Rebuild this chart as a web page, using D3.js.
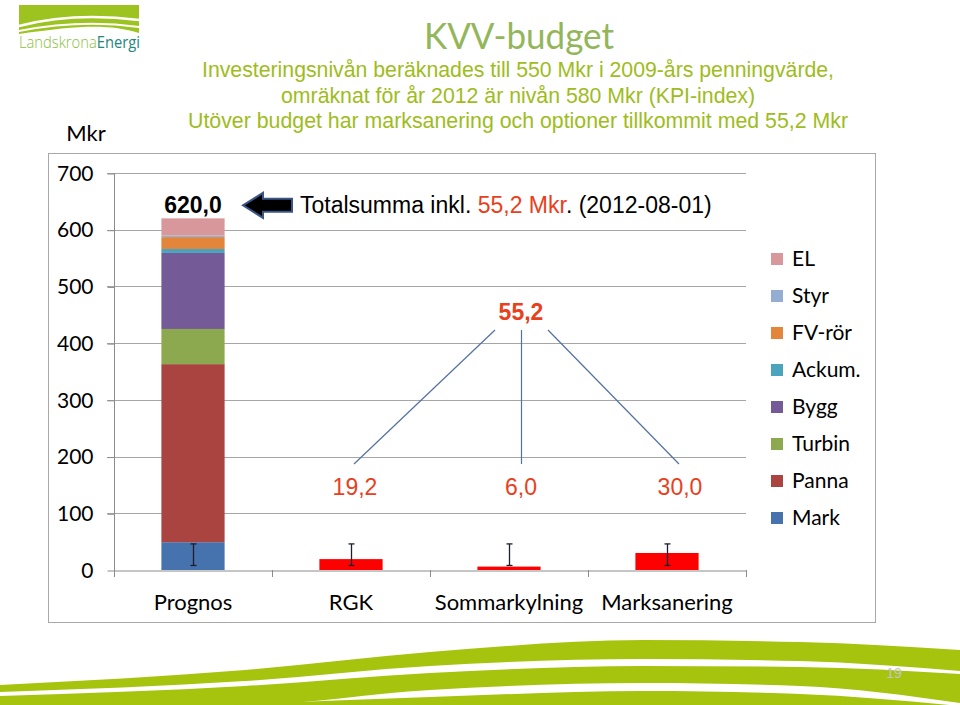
<!DOCTYPE html>
<html><head><meta charset="utf-8">
<script src="https://cdn.jsdelivr.net/npm/d3@7"></script>
<style>body{margin:0;background:#fff} svg{display:block}</style>
</head><body><svg id="c" width="960" height="705"></svg>
<script>
// ---------- data ----------
const categories = ["Prognos", "RGK", "Sommarkylning", "Marksanering"];
const stackSeries = ["Mark", "Panna", "Turbin", "Bygg", "Ackum.", "FV-rör", "Styr", "EL"];
const prognosValues = [49, 314, 62, 134, 7, 21, 3, 30];
const extraCategories = ["RGK", "Sommarkylning", "Marksanering"];
const extraValues = [19.2, 6.0, 30.0];
const errorMid = [27, 27, 27, 27];
const errorHalf = [19, 19, 19, 19];
const yTicks = [0, 100, 200, 300, 400, 500, 600, 700];
const totalValue = 620.0;
const extraTotal = 55.2;
const titleText = "KVV-budget";
const subtitleLines = [
  "Investeringsnivån beräknades till 550 Mkr i 2009-års penningvärde,",
  "omräknat för år 2012 är nivån 580 Mkr (KPI-index)",
  "Utöver budget har marksanering och optioner tillkommit med 55,2 Mkr"
];

// ---------- styles ----------
const seriesColors = ["#4673AE", "#A94441", "#8DA94F", "#745A96", "#4AA4BE", "#E4853C", "#93ADD3", "#D8979A"];
const calibri = "Lato, 'Open Sans', sans-serif";
const arial = "'Liberation Sans', Arial, sans-serif";
const fmt = v => d3.format(".1f")(v).replace(".", ",");

const svg = d3.select("#c");

// ---------- decorative background ----------
const green = "#A6C40E";
function swoosh(xs, top, bottom) {
  const pts = xs.map((xv, i) => [xv, top[i], bottom[i]]);
  return d3.area().x(p => p[0]).y0(p => p[2]).y1(p => p[1]).curve(d3.curveMonotoneX)(pts);
}
svg.append("path").attr("fill", green).attr("d", swoosh(
  [0, 245, 430, 643, 800, 960],
  [685, 670, 652, 640, 642, 650],
  [692, 681, 666, 659, 661, 671]));
svg.append("path").attr("fill", green).attr("d", swoosh(
  [0, 245, 430, 643, 800, 960],
  [696, 686, 673, 666, 667, 674],
  [706, 705, 690, 683, 686, 703]));
svg.append("path").attr("fill", green).attr("d", swoosh(
  [200, 430, 643, 800, 960],
  [706, 697, 691, 694, 706],
  [706, 706, 706, 706, 706]));
svg.append("text").attr("x", 894).attr("y", 678).attr("text-anchor", "middle")
  .attr("font-family", arial).attr("font-size", 14).attr("fill", "#c4c4c4").text("19");

// ---------- logo ----------
const logo = svg.append("g");
logo.append("path").attr("fill", "#9CC31F")
  .attr("d", "M19,5H139V33C110,24 80,25 19,34Z");
logo.append("path").attr("fill", "none").attr("stroke", "#fff").attr("stroke-width", 2.5)
  .attr("d", "M19,26C50,18 90,14 139,20");
logo.append("path").attr("fill", "none").attr("stroke", "#fff").attr("stroke-width", 2)
  .attr("d", "M19,31C55,24 95,21 139,27");
const lt = logo.append("text").attr("x", 19).attr("y", 48)
  .attr("font-family", "'Open Sans', sans-serif").attr("font-size", 15.5).attr("font-weight", 300)
  .attr("textLength", 121).attr("lengthAdjust", "spacingAndGlyphs");
lt.append("tspan").attr("fill", "#8BBE3E").text("Landskrona");
lt.append("tspan").attr("fill", "#23877E").attr("font-weight", 400).text("Energi");

// ---------- titles ----------
svg.append("text").attr("x", 519).attr("y", 49).attr("text-anchor", "middle")
  .attr("font-family", calibri).attr("font-weight", 400).attr("font-size", 37)
  .attr("fill", "#93B65A").attr("textLength", 190).attr("lengthAdjust", "spacingAndGlyphs")
  .text(titleText);
const subW = [632, 474, 660];
const subY = [77, 103, 128];
subtitleLines.forEach((s, i) => {
  svg.append("text").attr("x", 518).attr("y", subY[i]).attr("text-anchor", "middle")
    .attr("font-family", arial).attr("font-size", 22).attr("fill", "#9EBC1C")
    .attr("textLength", subW[i]).attr("lengthAdjust", "spacingAndGlyphs").text(s);
});

// ---------- chart frame ----------
svg.append("rect").attr("x", 48.5).attr("y", 153.5).attr("width", 827).attr("height", 469)
  .attr("fill", "none").attr("stroke", "#A8A8A8");
svg.append("text").attr("x", 86).attr("y", 141).attr("text-anchor", "middle")
  .attr("font-family", calibri).attr("font-size", 22).attr("fill", "#000").text("Mkr");

// ---------- scales ----------
const x = d3.scaleBand().domain(categories).range([114, 746]).padding(0);
const y = d3.scaleLinear().domain([0, 700]).range([570, 173]);
const barW = x.bandwidth() * 0.4;
const cx = c => x(c) + x.bandwidth() / 2;

// gridlines
svg.append("g").selectAll("line").data(yTicks.filter(t => t > 0)).join("line")
  .attr("x1", 107).attr("x2", 746)
  .attr("y1", d => Math.round(y(d)) + 0.5).attr("y2", d => Math.round(y(d)) + 0.5)
  .attr("stroke", "#A6A6A6");

// y axis
const yAxis = svg.append("g").attr("transform", "translate(114.5,0.5)")
  .call(d3.axisLeft(y).tickValues(yTicks).tickSize(7).tickPadding(14).tickFormat(d3.format("d")));
yAxis.select(".domain").remove();
yAxis.selectAll(".tick line").attr("stroke", "#8C8C8C");
yAxis.selectAll("text").attr("font-family", calibri).attr("font-size", 21).attr("fill", "#000");
svg.append("line").attr("x1", 114.5).attr("x2", 114.5).attr("y1", y(700)).attr("y2", 577)
  .attr("stroke", "#8C8C8C");

// x axis
const xAxis = svg.append("g").attr("transform", "translate(0,570.5)")
  .call(d3.axisBottom(x).tickSize(0).tickPadding(24));
xAxis.select(".domain").attr("stroke", "#8C8C8C");
xAxis.selectAll("text").attr("font-family", calibri).attr("font-size", 22).attr("fill", "#000");
svg.append("g").selectAll("line").data(categories).join("line")
  .attr("x1", d => Math.round(x(d) + x.bandwidth()) + 0.5)
  .attr("x2", d => Math.round(x(d) + x.bandwidth()) + 0.5)
  .attr("y1", 570).attr("y2", 577).attr("stroke", "#8C8C8C");

// ---------- stacked bar ----------
const row = { category: "Prognos" };
stackSeries.forEach((k, i) => row[k] = prognosValues[i]);
const stacked = d3.stack().keys(stackSeries)([row]);
svg.append("g").selectAll("g").data(stacked).join("g")
  .attr("fill", (d, i) => seriesColors[i])
  .selectAll("rect").data(d => d).join("rect")
  .attr("x", d => cx(d.data.category) - barW / 2)
  .attr("width", barW)
  .attr("y", d => y(d[1]))
  .attr("height", d => y(d[0]) - y(d[1]));

// red extra bars
svg.append("g").selectAll("rect").data(extraCategories).join("rect")
  .attr("fill", "#FF0000")
  .attr("x", d => cx(d) - barW / 2).attr("width", barW)
  .attr("y", (d, i) => y(extraValues[i]))
  .attr("height", (d, i) => y(0) - y(extraValues[i]));

// error bars
const eb = svg.append("g").attr("stroke", "#1E1E2E").attr("stroke-width", 1.3);
categories.forEach((c, i) => {
  const lo = y(errorMid[i] - errorHalf[i]), hi = y(errorMid[i] + errorHalf[i]);
  const xc = Math.round(cx(c)) + 0.5;
  eb.append("line").attr("x1", xc).attr("x2", xc).attr("y1", lo).attr("y2", hi);
  eb.append("line").attr("x1", xc - 3).attr("x2", xc + 3).attr("y1", lo).attr("y2", lo);
  eb.append("line").attr("x1", xc - 3).attr("x2", xc + 3).attr("y1", hi).attr("y2", hi);
});

// ---------- annotations ----------
const topY = y(totalValue);
svg.append("text").attr("x", cx("Prognos")).attr("y", topY - 5).attr("text-anchor", "middle")
  .attr("font-family", arial).attr("font-weight", "bold").attr("font-size", 23).attr("fill", "#000")
  .text(fmt(totalValue));
const ay = topY - 13;
svg.append("path").attr("fill", "#000").attr("stroke", "#3A5688").attr("stroke-width", 2)
  .attr("stroke-linejoin", "miter")
  .attr("d", `M243,${ay}L263,${ay - 12.5}V${ay - 6.5}H292V${ay + 6.5}H263V${ay + 12.5}Z`);
const tt = svg.append("text").attr("x", 300).attr("y", topY - 5)
  .attr("font-family", arial).attr("font-size", 23).attr("fill", "#000");
tt.append("tspan").text("Totalsumma inkl. ");
tt.append("tspan").attr("fill", "#E8401C").text(fmt(extraTotal) + " Mkr");
tt.append("tspan").text(". (2012-08-01)");

svg.append("text").attr("x", 521).attr("y", 320).attr("text-anchor", "middle")
  .attr("font-family", arial).attr("font-weight", "bold").attr("font-size", 23).attr("fill", "#E8401C")
  .text(fmt(extraTotal));
const labelX = [355, 521, 680];
const endX = [354, 521.5, 679];
const startX = [495, 521.5, 548];
const lines = svg.append("g").attr("stroke", "#5470A0").attr("stroke-width", 1.2);
labelX.forEach((lx, i) => {
  lines.append("line").attr("x1", startX[i]).attr("y1", 330).attr("x2", endX[i]).attr("y2", 464);
  svg.append("text").attr("x", lx).attr("y", 495).attr("text-anchor", "middle")
    .attr("font-family", arial).attr("font-size", 23).attr("fill", "#E8401C")
    .text(fmt(extraValues[i]));
});

// ---------- legend ----------
const legendItems = stackSeries.map((s, i) => ({ s, c: seriesColors[i] })).reverse();
const lg = svg.append("g").selectAll("g").data(legendItems).join("g")
  .attr("transform", (d, i) => `translate(771,${259 + i * 37})`);
lg.append("rect").attr("x", 0).attr("y", -6).attr("width", 12).attr("height", 12).attr("fill", d => d.c);
lg.append("text").attr("x", 21).attr("y", 0).attr("dy", "0.35em")
  .attr("font-family", calibri).attr("font-size", 21).attr("fill", "#000").text(d => d.s);
</script>
</body></html>
